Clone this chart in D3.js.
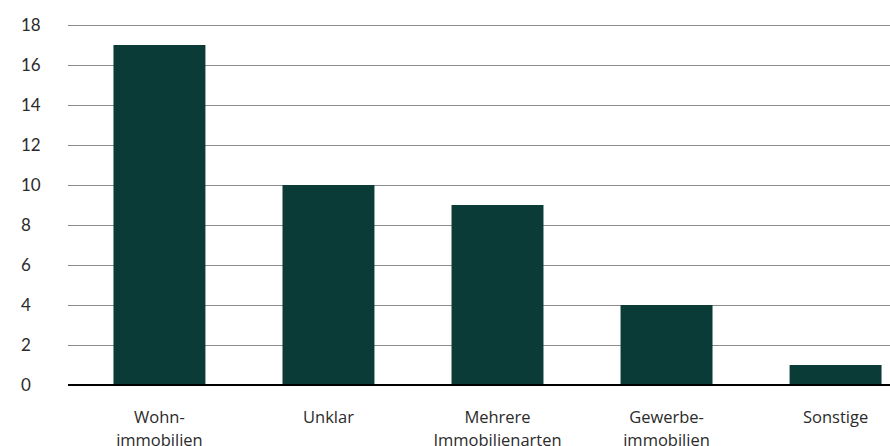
<!DOCTYPE html>
<html>
<head>
<meta charset="utf-8">
<script src="https://cdn.jsdelivr.net/npm/d3@7"></script>
<style>
  html, body { margin: 0; padding: 0; background: #ffffff; }
  svg { display: block; }
  text { fill: #2b2b2b; }
</style>
</head>
<body>
<svg id="chart" width="890" height="446"></svg>
<script>
// Categories (line breaks marked with \n) and their counts
const categories = ["Wohn-\nimmobilien", "Unklar", "Mehrere\nImmobilienarten", "Gewerbe-\nimmobilien", "Sonstige"];
const values = [17, 10, 9, 4, 1];
const yTicks = [0, 2, 4, 6, 8, 10, 12, 14, 16, 18];

const svg = d3.select("#chart");
const plotLeft = 68, plotRight = 927, plotTop = 25, plotBottom = 385;

const x = d3.scaleBand()
  .domain(categories)
  .range([plotLeft, plotRight])
  .paddingInner(0.456)
  .paddingOuter(0.269);

const y = d3.scaleLinear()
  .domain([0, 18])
  .range([plotBottom, plotTop]);

// Horizontal gridlines
svg.append("g")
  .selectAll("line")
  .data(yTicks.filter(d => d !== 0))
  .join("line")
  .attr("x1", plotLeft).attr("x2", plotRight)
  .attr("y1", d => y(d) + 0.5).attr("y2", d => y(d) + 0.5)
  .attr("stroke", "#8c8c8c")
  .attr("stroke-width", 1);

// Y tick labels, left aligned
svg.append("g")
  .selectAll("text")
  .data(yTicks)
  .join("text")
  .attr("x", 21)
  .attr("y", d => y(d))
  .attr("dy", "0.34em")
  .attr("font-family", "Lato, sans-serif")
  .attr("font-size", 17)
  .text(d => d);

// Bars
svg.append("g")
  .selectAll("rect")
  .data(values)
  .join("rect")
  .attr("x", (d, i) => x(categories[i]))
  .attr("width", x.bandwidth())
  .attr("y", d => y(d))
  .attr("height", d => y(0) - y(d))
  .attr("fill", "#0b3b36");

// Baseline
svg.append("line")
  .attr("x1", plotLeft).attr("x2", plotRight)
  .attr("y1", y(0)).attr("y2", y(0))
  .attr("stroke", "#000")
  .attr("stroke-width", 2);

// Category labels
const labels = svg.append("g")
  .selectAll("text")
  .data(categories)
  .join("text")
  .attr("text-anchor", "middle")
  .attr("font-family", "'Open Sans', sans-serif")
  .attr("font-size", 16.5)
  .attr("x", d => x(d) + x.bandwidth() / 2)
  .attr("y", 423);

labels.selectAll("tspan")
  .data(d => d.split("\n").map(t => ({ t })))
  .join("tspan")
  .attr("x", function () { return d3.select(this.parentNode).attr("x"); })
  .attr("dy", (d, i) => i === 0 ? 0 : 23)
  .text(d => d.t);
</script>
</body>
</html>
